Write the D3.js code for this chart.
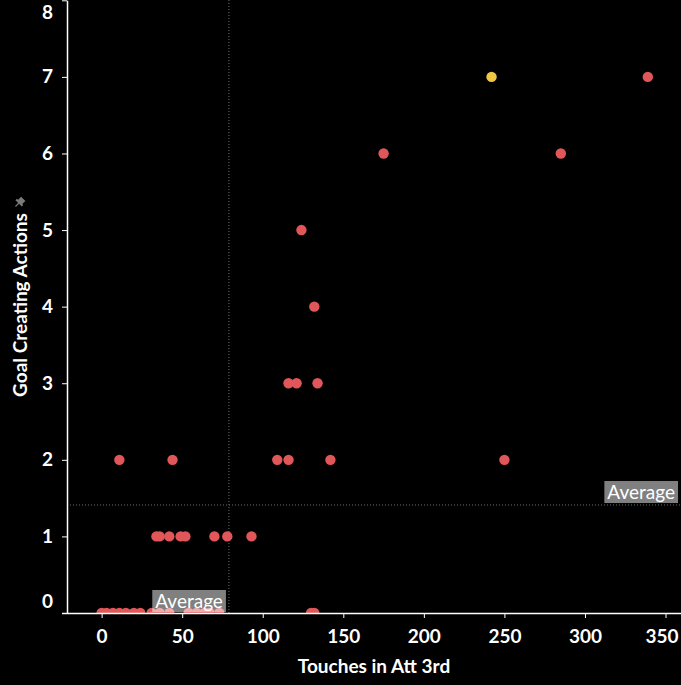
<!DOCTYPE html>
<html><head><meta charset="utf-8">
<script src="https://cdn.jsdelivr.net/npm/d3@7"></script>
<style>
html,body{margin:0;padding:0;background:#000;}
svg{display:block;}
</style></head>
<body>
<svg id="chart" width="681" height="685"></svg>
<script>
// Data: touches in attacking third vs goal creating actions
const touches = [0, 3, 7, 11, 15, 20, 24, 31, 36, 42, 54, 59, 64, 67, 73, 130, 132,
                 34, 36, 42, 49, 52, 70, 78, 93,
                 11, 44, 109, 116, 142, 250,
                 116, 121, 134,
                 132,
                 124,
                 175, 285,
                 242, 339];
const gca = [0, 0, 0, 0, 0, 0, 0, 0, 0, 0, 0, 0, 0, 0, 0, 0, 0,
             1, 1, 1, 1, 1, 1, 1, 1,
             2, 2, 2, 2, 2, 2,
             3, 3, 3,
             4,
             5,
             6, 6,
             7, 7];
const highlighted = [false,false,false,false,false,false,false,false,false,false,false,false,false,false,false,false,false,
                     false,false,false,false,false,false,false,false,
                     false,false,false,false,false,false,
                     false,false,false,false,false,false,false,
                     true,false];
const avgTouches = 79;
const avgGca = 1.41;
const xTicks = [0, 50, 100, 150, 200, 250, 300, 350];
const yTicks = [0, 1, 2, 3, 4, 5, 6, 7, 8];

const points = touches.map((t, i) => ({x: t, y: gca[i], hl: highlighted[i]}));

const svg = d3.select("#chart");
const W = 681, H = 685;
const mL = 67, mR = 681, mT = 0, mB = 613;
const FONT = "Lato, 'Open Sans', sans-serif";
const FS = 19;

const x = d3.scaleLinear().domain([-21.5, 359.6]).range([mL, mR]);
const y = d3.scaleLinear().domain([0, 8]).range([mB, mT + 0.3]);

svg.append("rect").attr("width", W).attr("height", H).attr("fill", "#000");

svg.append("defs").append("clipPath").attr("id", "plotclip")
  .append("rect").attr("x", mL).attr("y", mT).attr("width", mR - mL).attr("height", mB - mT);

// average lines
svg.append("line")
  .attr("x1", x(avgTouches)).attr("x2", x(avgTouches))
  .attr("y1", mT).attr("y2", mB)
  .attr("stroke", "#6e6e6e").attr("stroke-width", 1).attr("stroke-dasharray", "1,2");
svg.append("line")
  .attr("x1", mL).attr("x2", mR)
  .attr("y1", y(avgGca)).attr("y2", y(avgGca))
  .attr("stroke", "#6e6e6e").attr("stroke-width", 1).attr("stroke-dasharray", "1,2");

// points
const plot = svg.append("g").attr("clip-path", "url(#plotclip)");
plot.selectAll("circle").data(points).join("circle")
  .attr("cx", d => x(d.x)).attr("cy", d => y(d.y)).attr("r", 5.2)
  .attr("fill", d => d.hl ? "#f1c644" : "#e15759");

// average labels
function avgLabel(xr, yb) {
  const g = svg.append("g");
  const t = g.append("text").text("Average")
    .attr("font-family", FONT).attr("font-size", FS).attr("fill", "#fff")
    .attr("text-anchor", "end");
  const w = t.node().getComputedTextLength();
  const bw = w + 6, bh = 22;
  g.insert("rect", "text").attr("x", xr - bw).attr("y", yb - bh).attr("width", bw).attr("height", bh)
    .attr("fill", "#fff").attr("fill-opacity", 0.5);
  t.attr("x", xr - 3).attr("y", yb - 4);
}
avgLabel(mR - 3, y(avgGca) - 2);
avgLabel(x(avgTouches) - 3, mB - 1);

// axes
const xAxis = svg.append("g").attr("transform", `translate(0,${mB})`)
  .call(d3.axisBottom(x).tickValues(xTicks).tickSize(5).tickPadding(12).tickSizeOuter(0));
xAxis.select(".domain").attr("d", `M${mL - 5},0.5H${mR}`);
const yAxis = svg.append("g").attr("transform", `translate(${mL},0)`)
  .call(d3.axisLeft(y).tickValues(yTicks).tickSize(5).tickPadding(9).tickSizeOuter(0));

[xAxis, yAxis].forEach(a => {
  a.select(".domain").attr("stroke", "#fff").attr("stroke-width", 1.5);
  a.selectAll(".tick line").attr("stroke", "#fff");
  a.selectAll("text").attr("fill", "#fff").attr("font-family", FONT)
    .attr("font-size", FS).attr("font-weight", "bold");
});
yAxis.selectAll(".tick").filter(d => d === 8).select("text").attr("dy", "0.95em");
yAxis.selectAll(".tick").filter(d => d === 0).select("text").attr("dy", "-0.3em");
xAxis.selectAll(".tick").filter(d => d === 350).select("text").attr("dx", "-4");

// axis titles
svg.append("text").text("Touches in Att 3rd")
  .attr("x", 374).attr("y", 673).attr("text-anchor", "middle")
  .attr("font-family", FONT).attr("font-size", FS).attr("font-weight", "bold").attr("fill", "#fff");
svg.append("text").text("Goal Creating Actions")
  .attr("transform", "translate(27,305) rotate(-90)").attr("text-anchor", "middle")
  .attr("font-family", FONT).attr("font-size", FS).attr("font-weight", "bold").attr("fill", "#fff");

// pin icon
const pin = svg.append("g").attr("transform", "translate(19,203) rotate(45)").attr("fill", "#7a7a7a");
pin.append("rect").attr("x", -3).attr("y", -6).attr("width", 6).attr("height", 5);
pin.append("rect").attr("x", -4.5).attr("y", -1.5).attr("width", 9).attr("height", 2);
pin.append("rect").attr("x", -0.6).attr("y", 0).attr("width", 1.2).attr("height", 5);
</script>
</body></html>
